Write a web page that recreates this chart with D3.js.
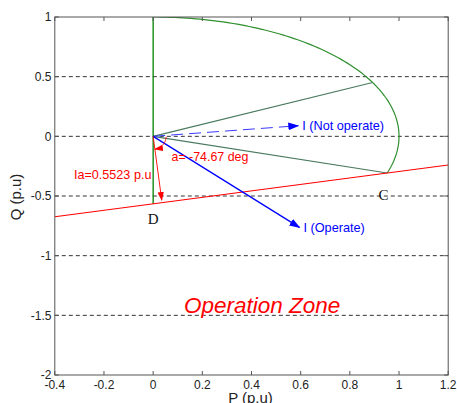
<!DOCTYPE html>
<html><head><meta charset="utf-8">
<script src="https://cdn.jsdelivr.net/npm/d3@7"></script>
<style>body{margin:0;background:#fff}svg{display:block}text{font-family:Arial,"Liberation Sans",sans-serif}</style>
</head><body>
<script>
// ---- data ----
const xTicks = [-0.4,-0.2,0,0.2,0.4,0.6,0.8,1,1.2];
const xTickLabels = ["-0.4","-0.2","0","0.2","0.4","0.6","0.8","1","1.2"];
const yTicks = [-2,-1.5,-1,-0.5,0,0.5,1];
const yTickLabels = ["-2","-1.5","-1","-0.5","0","0.5","1"];
const gridY = [0.5,0,-0.5,-1,-1.5];
const redLine = [[-0.4,-0.674],[1.2,-0.240]];
const greenVertical = [[0,1],[0,-0.566]];
const arcRadius = 1, arcStartDeg = 90, arcEndDeg = -17.9;
const radialAnglesDeg = [26.8,-17.9];
const iaArrow = [[0,0],[0.035,-0.535]];
const notOperateArrow = [[0,0],[0.59,0.089]];
const operateArrow = [[0,0],[0.595,-0.763]];
const labelD = [0,-0.735], labelC = [0.937,-0.534];

const W=457,H=403;
const x = d3.scaleLinear().domain([-0.4,1.2]).range([54.8,448.2]);
const y = d3.scaleLinear().domain([-2,1]).range([375,17]);

const svg = d3.select("body").append("svg").attr("width",W).attr("height",H);
const defs = svg.append("defs");
function marker(id,color,size){
  defs.append("marker").attr("id",id).attr("viewBox","0 0 10 10").attr("refX",9).attr("refY",5)
    .attr("markerWidth",size).attr("markerHeight",size).attr("markerUnits","userSpaceOnUse").attr("orient","auto")
    .append("path").attr("d","M0,1.5 L10,5 L0,8.5 Z").attr("fill",color);
}
marker("ab","#0000ff",11);
marker("ar","#ff0000",9);

const clip = defs.append("clipPath").attr("id","clip").append("rect")
  .attr("x",x(-0.4)).attr("y",y(1)).attr("width",x(1.2)-x(-0.4)).attr("height",y(-2)-y(1));

// grid
svg.append("g").selectAll("line").data(gridY).join("line")
  .attr("x1",x(-0.4)).attr("x2",x(1.2)).attr("y1",d=>y(d)).attr("y2",d=>y(d))
  .attr("stroke","#333").attr("stroke-width",1).attr("stroke-dasharray","4,3");

const line = d3.line().x(d=>x(d[0])).y(d=>y(d[1]));
const g = svg.append("g").attr("clip-path","url(#clip)");

// green arc
const arcPts = d3.range(arcStartDeg, arcEndDeg-0.01, -1).concat([arcEndDeg])
  .map(a=>[arcRadius*Math.cos(a*Math.PI/180), arcRadius*Math.sin(a*Math.PI/180)]);
g.append("path").attr("d",line(arcPts)).attr("fill","none").attr("stroke","#2f8f2f").attr("stroke-width",1.2);
// radial lines
radialAnglesDeg.forEach(a=>{
  g.append("path").attr("d",line([[0,0],[arcRadius*Math.cos(a*Math.PI/180),arcRadius*Math.sin(a*Math.PI/180)]]))
   .attr("fill","none").attr("stroke","#4a7a5e").attr("stroke-width",1.2);
});
// vertical green
g.append("path").attr("d",line(greenVertical)).attr("fill","none").attr("stroke","#008000").attr("stroke-width",1.3);
// red line
g.append("path").attr("d",line(redLine)).attr("fill","none").attr("stroke","#ff0000").attr("stroke-width",1.2);

// blue arrows
g.append("path").attr("d",line(notOperateArrow)).attr("fill","none").attr("stroke","#3a3aff").attr("stroke-width",1)
  .attr("stroke-dasharray","12,6").attr("marker-end","url(#ab)");
g.append("path").attr("d",line(operateArrow)).attr("fill","none").attr("stroke","#0000ff").attr("stroke-width",1.3)
  .attr("marker-end","url(#ab)");
// Ia arrow
g.append("path").attr("d",line(iaArrow)).attr("fill","none").attr("stroke","#ff0000").attr("stroke-width",0.9)
  .attr("marker-end","url(#ar)");
// angle arc near origin (pixel-space small arc)
{
  const ox=x(0), oy=y(0), r=13;
  const p2 = [x(iaArrow[1][0])-ox, y(iaArrow[1][1])-oy];
  const a2 = Math.atan2(p2[1],p2[0]);
  const pts = d3.range(0.05, a2, 0.05).concat([a2]).map(a=>[ox+r*Math.cos(a), oy+r*Math.sin(a)]);
  svg.append("path").attr("d",d3.line()(pts)).attr("fill","none").attr("stroke","#ff0000").attr("stroke-width",0.9)
    .attr("marker-end","url(#ar)");
}

// frame
svg.append("rect").attr("x",x(-0.4)).attr("y",y(1)).attr("width",x(1.2)-x(-0.4)).attr("height",y(-2)-y(1))
  .attr("fill","none").attr("stroke","#555").attr("stroke-width",1);
// ticks
const tl=4;
xTicks.forEach(t=>{
  svg.append("line").attr("x1",x(t)).attr("x2",x(t)).attr("y1",y(-2)).attr("y2",y(-2)-tl).attr("stroke","#555");
  svg.append("line").attr("x1",x(t)).attr("x2",x(t)).attr("y1",y(1)).attr("y2",y(1)+tl).attr("stroke","#555");
});
yTicks.forEach(t=>{
  svg.append("line").attr("x1",x(-0.4)).attr("x2",x(-0.4)+tl).attr("y1",y(t)).attr("y2",y(t)).attr("stroke","#555");
  svg.append("line").attr("x1",x(1.2)).attr("x2",x(1.2)-tl).attr("y1",y(t)).attr("y2",y(t)).attr("stroke","#555");
});
svg.append("g").selectAll("text").data(xTicks).join("text")
  .attr("x",d=>x(d)).attr("y",388.5).attr("text-anchor","middle").attr("font-size",12).attr("fill","#222")
  .text((d,i)=>xTickLabels[i]);
svg.append("g").selectAll("text").data(yTicks).join("text")
  .attr("x",51.5).attr("y",d=>y(d)+4.3).attr("text-anchor","end").attr("font-size",12).attr("fill","#222")
  .text((d,i)=>yTickLabels[i]);

// axis labels
svg.append("text").attr("x",250.5).attr("y",403).attr("text-anchor","middle").attr("font-size",15).attr("fill","#222").text("P (p.u)");
svg.append("text").attr("transform","translate(21,197) rotate(-90)").attr("text-anchor","middle").attr("font-size",15).attr("fill","#222").text("Q (p.u)");

// annotations
svg.append("text").attr("x",x(notOperateArrow[1][0])+4).attr("y",y(notOperateArrow[1][1])+4.5).attr("font-size",12.7).attr("fill","#0000ff").text("I (Not operate)");
svg.append("text").attr("x",x(operateArrow[1][0])+4).attr("y",y(operateArrow[1][1])+5).attr("font-size",12.7).attr("fill","#0000ff").text("I (Operate)");
svg.append("text").attr("x",171.5).attr("y",161).attr("font-size",12.4).attr("fill","#ff0000").text("a= -74.67 deg");
svg.append("text").attr("x",74).attr("y",178.5).attr("font-size",12.6).attr("fill","#ff0000").text("Ia=0.5523 p.u");
svg.append("text").attr("x",x(labelD[0])).attr("y",y(labelD[1])).attr("text-anchor","middle").attr("font-size",15)
  .style("font-family","'Liberation Serif','Times New Roman',serif").attr("fill","#111").text("D");
svg.append("text").attr("x",x(labelC[0])).attr("y",y(labelC[1])).attr("text-anchor","middle").attr("font-size",15)
  .style("font-family","'Liberation Serif','Times New Roman',serif").attr("fill","#111").text("C");
svg.append("text").attr("x",184).attr("y",313).attr("font-size",22.5).attr("font-style","italic").attr("fill","#ff0000").text("Operation Zone");
</script>
</body></html>
